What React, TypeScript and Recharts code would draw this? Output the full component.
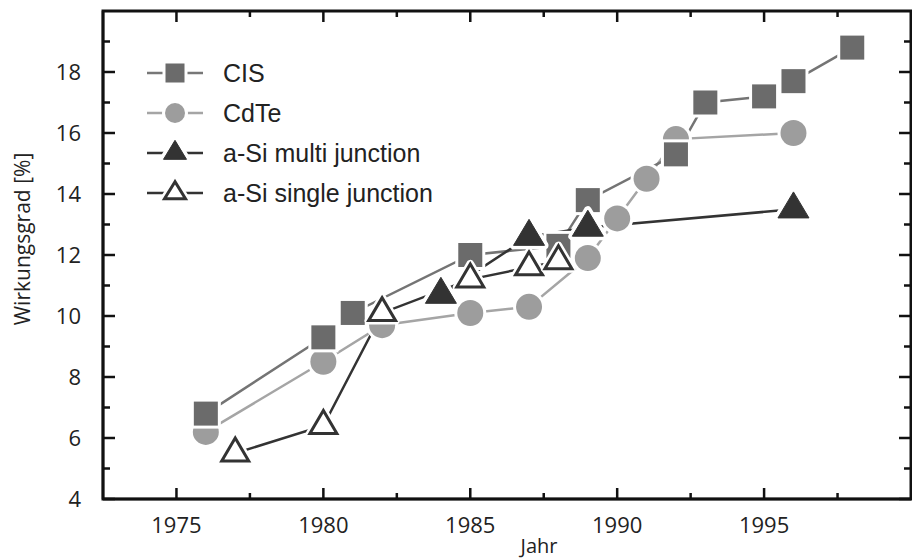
import React from 'react';
import { LineChart, Line, XAxis, YAxis, Legend, Label } from 'recharts';

// Wirkungsgrad der Dünnschicht-Solarzellen (Laborrekorde)
const cisYears = [1976, 1980, 1981, 1985, 1988, 1989, 1992, 1993, 1995, 1996, 1998];
const cisValues = [6.8, 9.3, 10.1, 12.0, 12.3, 13.8, 15.3, 17.0, 17.2, 17.7, 18.8];

const cdteYears = [1976, 1980, 1982, 1985, 1987, 1989, 1990, 1991, 1992, 1996];
const cdteValues = [6.2, 8.5, 9.7, 10.1, 10.3, 11.9, 13.2, 14.5, 15.8, 16.0];

const multiYears = [1984, 1987, 1989, 1996];
const multiValues = [10.7, 12.6, 12.9, 13.5];

const singleYears = [1977, 1980, 1982, 1985, 1987, 1988];
const singleValues = [5.5, 6.4, 10.1, 11.2, 11.6, 11.8];

const xTicks = [1975, 1977.5, 1980, 1982.5, 1985, 1987.5, 1990, 1992.5, 1995, 1997.5];
const yTicks = [4, 5, 6, 7, 8, 9, 10, 11, 12, 13, 14, 15, 16, 17, 18, 19];
const yLabels = [4, 6, 8, 10, 12, 14, 16, 18];

const X_MIN = 1972.5;
const X_MAX = 2000;
const Y_MIN = 4;
const Y_MAX = 20;

const toRows = (years: number[], values: number[]) =>
  years.map((year, i) => ({ year, value: values[i] }));

const cisData = toRows(cisYears, cisValues);
const cdteData = toRows(cdteYears, cdteValues);
const multiData = toRows(multiYears, multiValues);
const singleData = toRows(singleYears, singleValues);

const WIDTH = 912;
const HEIGHT = 559;
const MARGIN = { top: 11, right: 1, left: 0, bottom: 0 };
const Y_AXIS_W = 103;
const X_AXIS_H = 60;
const PLOT_W = WIDTH - MARGIN.left - MARGIN.right - Y_AXIS_W;
const PLOT_H = HEIGHT - MARGIN.top - MARGIN.bottom - X_AXIS_H;

// position of the mirrored ticks on the top / right frame
const frameX = (v: number) => Y_AXIS_W + ((v - X_MIN) / (X_MAX - X_MIN)) * PLOT_W;
const frameY = (v: number) => MARGIN.top + ((Y_MAX - v) / (Y_MAX - Y_MIN)) * PLOT_H;

const INK = '#111111';
const TICK_FONT = '"Open Sans", sans-serif';
const SQUARE_FILL = '#6b6b6b';
const CIRCLE_FILL = '#9d9d9d';
const DARK = '#333333';

// markers, with a white halo so the lines stop short of them
const squareShape = (cx: number, cy: number, s: number) => (
  <g>
    <rect x={cx - s / 2 - 3} y={cy - s / 2 - 3} width={s + 6} height={s + 6} fill="#fff" />
    <rect x={cx - s / 2} y={cy - s / 2} width={s} height={s} fill={SQUARE_FILL} />
  </g>
);

const circleShape = (cx: number, cy: number, r: number) => (
  <g>
    <circle cx={cx} cy={cy} r={r + 3} fill="#fff" />
    <circle cx={cx} cy={cy} r={r} fill={CIRCLE_FILL} />
  </g>
);

const triPoints = (cx: number, cy: number, w: number, h: number) =>
  `${cx},${cy - (2 * h) / 3} ${cx - w / 2},${cy + h / 3} ${cx + w / 2},${cy + h / 3}`;

const triangleShape = (cx: number, cy: number, w: number, h: number, open: boolean) => (
  <g>
    <polygon points={triPoints(cx, cy, w, h)} fill="#fff" stroke="#fff" strokeWidth={8} strokeLinejoin="round" />
    <polygon
      points={triPoints(cx, cy, w, h)}
      fill={open ? '#fff' : DARK}
      stroke={DARK}
      strokeWidth={open ? 3 : 1}
      strokeLinejoin="miter"
    />
  </g>
);

const cisDot = (p: any) => <g key={`cis-${p.index}`}>{squareShape(p.cx, p.cy, 24)}</g>;
const cdteDot = (p: any) => <g key={`cdte-${p.index}`}>{circleShape(p.cx, p.cy, 13)}</g>;
const multiDot = (p: any) => <g key={`multi-${p.index}`}>{triangleShape(p.cx, p.cy, 31, 26, false)}</g>;
const singleDot = (p: any) => <g key={`single-${p.index}`}>{triangleShape(p.cx, p.cy, 27, 23, true)}</g>;

const xTickLen = (v: number) => (v % 5 === 0 ? 11 : 6);
const yTickLen = (v: number) => (yLabels.includes(v) ? 12 : 7);

// ticks point into the plot
const BottomTick = (props: any) => {
  const { x, y, payload } = props;
  const v = payload.value;
  return (
    <g>
      <path d={`M${x},${y}V${y - xTickLen(v)}`} stroke={INK} strokeWidth={2.5} fill="none" />
      {v % 5 === 0 && (
        <text x={x} y={y + 34} textAnchor="middle" fontFamily={TICK_FONT} fontSize={22} fill="#222">
          {v}
        </text>
      )}
    </g>
  );
};

const LeftTick = (props: any) => {
  const { x, y, payload } = props;
  const v = payload.value;
  return (
    <g>
      <path d={`M${x},${y}H${x + yTickLen(v)}`} stroke={INK} strokeWidth={2.5} fill="none" />
      {yLabels.includes(v) && (
        <text x={x - 22} y={y + 7.5} textAnchor="end" fontFamily={TICK_FONT} fontSize={22} fill="#222">
          {v}
        </text>
      )}
    </g>
  );
};

const legendItems = [
  { name: 'CIS', color: '#777', icon: (cx: number, cy: number) => squareShape(cx, cy, 19) },
  { name: 'CdTe', color: '#a5a5a5', icon: (cx: number, cy: number) => circleShape(cx, cy, 10) },
  { name: 'a-Si multi junction', color: DARK, icon: (cx: number, cy: number) => triangleShape(cx, cy, 23, 19, false) },
  { name: 'a-Si single junction', color: DARK, icon: (cx: number, cy: number) => triangleShape(cx, cy, 21, 17, true) },
];

const renderLegend = () => (
  <div>
    {legendItems.map((item) => (
      <div key={item.name} style={{ display: 'flex', alignItems: 'center', height: 40 }}>
        <svg width={56} height={40}>
          <line x1={0} x2={56} y1={20} y2={20} stroke={item.color} strokeWidth={2.5} />
          {item.icon(28, 20)}
        </svg>
        <span
          style={{
            marginLeft: 20,
            fontFamily: '"Liberation Sans", Arial, sans-serif',
            fontSize: 25,
            lineHeight: '40px',
            color: '#222',
            whiteSpace: 'nowrap',
          }}
        >
          {item.name}
        </span>
      </div>
    ))}
  </div>
);

const App = () => {
  return (
    <div style={{ position: 'absolute', left: 0, top: 0, width: WIDTH, height: HEIGHT, background: '#fff' }}>
      <LineChart width={WIDTH} height={HEIGHT} margin={MARGIN}>
        <XAxis
          dataKey="year"
          type="number"
          domain={[X_MIN, X_MAX]}
          ticks={xTicks}
          interval={0}
          height={X_AXIS_H}
          tickSize={0}
          tickMargin={0}
          tickLine={false}
          tick={BottomTick}
          axisLine={{ stroke: INK, strokeWidth: 2.5 }}
          allowDataOverflow
        >
          <Label
            content={({ viewBox }: any) => (
              <text
                x={viewBox.x + viewBox.width / 2 + 32}
                y={viewBox.y + 54}
                textAnchor="middle"
                fontFamily={TICK_FONT}
                fontSize={20}
                fill="#222"
              >
                Jahr
              </text>
            )}
          />
        </XAxis>
        <YAxis
          type="number"
          domain={[Y_MIN, Y_MAX]}
          ticks={yTicks}
          interval={0}
          width={Y_AXIS_W}
          tickSize={0}
          tickMargin={0}
          tickLine={false}
          tick={LeftTick}
          axisLine={{ stroke: INK, strokeWidth: 2.5 }}
          allowDataOverflow
        >
          <Label
            content={() => (
              <text
                x={30}
                y={239}
                transform="rotate(-90 30 239)"
                textAnchor="middle"
                fontFamily={TICK_FONT}
                fontSize={21}
                fill="#222"
              >
                Wirkungsgrad [%]
              </text>
            )}
          />
        </YAxis>
        <Legend
          layout="horizontal"
          verticalAlign="middle"
          align="center"
          content={renderLegend}
          wrapperStyle={{ left: 147, top: 53, width: 'auto' }}
        />
        <Line data={cdteData} dataKey="value" name="CdTe" stroke="#a5a5a5" strokeWidth={2.5} dot={cdteDot} activeDot={false} isAnimationActive={false} />
        <Line data={cisData} dataKey="value" name="CIS" stroke="#747474" strokeWidth={2.5} dot={cisDot} activeDot={false} isAnimationActive={false} />
        <Line data={multiData} dataKey="value" name="a-Si multi junction" stroke={DARK} strokeWidth={2.5} dot={multiDot} activeDot={false} isAnimationActive={false} />
        <Line data={singleData} dataKey="value" name="a-Si single junction" stroke={DARK} strokeWidth={2.5} dot={singleDot} activeDot={false} isAnimationActive={false} />
      </LineChart>
      {/* plot frame and the mirrored ticks on its top and right edges */}
      <svg
        width={WIDTH}
        height={HEIGHT}
        style={{ position: 'absolute', left: 0, top: 0, pointerEvents: 'none', zIndex: 5 }}
      >
        <rect
          x={Y_AXIS_W}
          y={MARGIN.top}
          width={PLOT_W}
          height={PLOT_H}
          fill="none"
          stroke={INK}
          strokeWidth={3}
        />
        {xTicks.map((t) => (
          <line
            key={`top-${t}`}
            x1={frameX(t)}
            x2={frameX(t)}
            y1={MARGIN.top}
            y2={MARGIN.top + xTickLen(t)}
            stroke={INK}
            strokeWidth={2.5}
          />
        ))}
        {yTicks.map((v) => (
          <line
            key={`right-${v}`}
            x1={Y_AXIS_W + PLOT_W}
            x2={Y_AXIS_W + PLOT_W - yTickLen(v)}
            y1={frameY(v)}
            y2={frameY(v)}
            stroke={INK}
            strokeWidth={2.5}
          />
        ))}
      </svg>
    </div>
  );
};

export default App;
